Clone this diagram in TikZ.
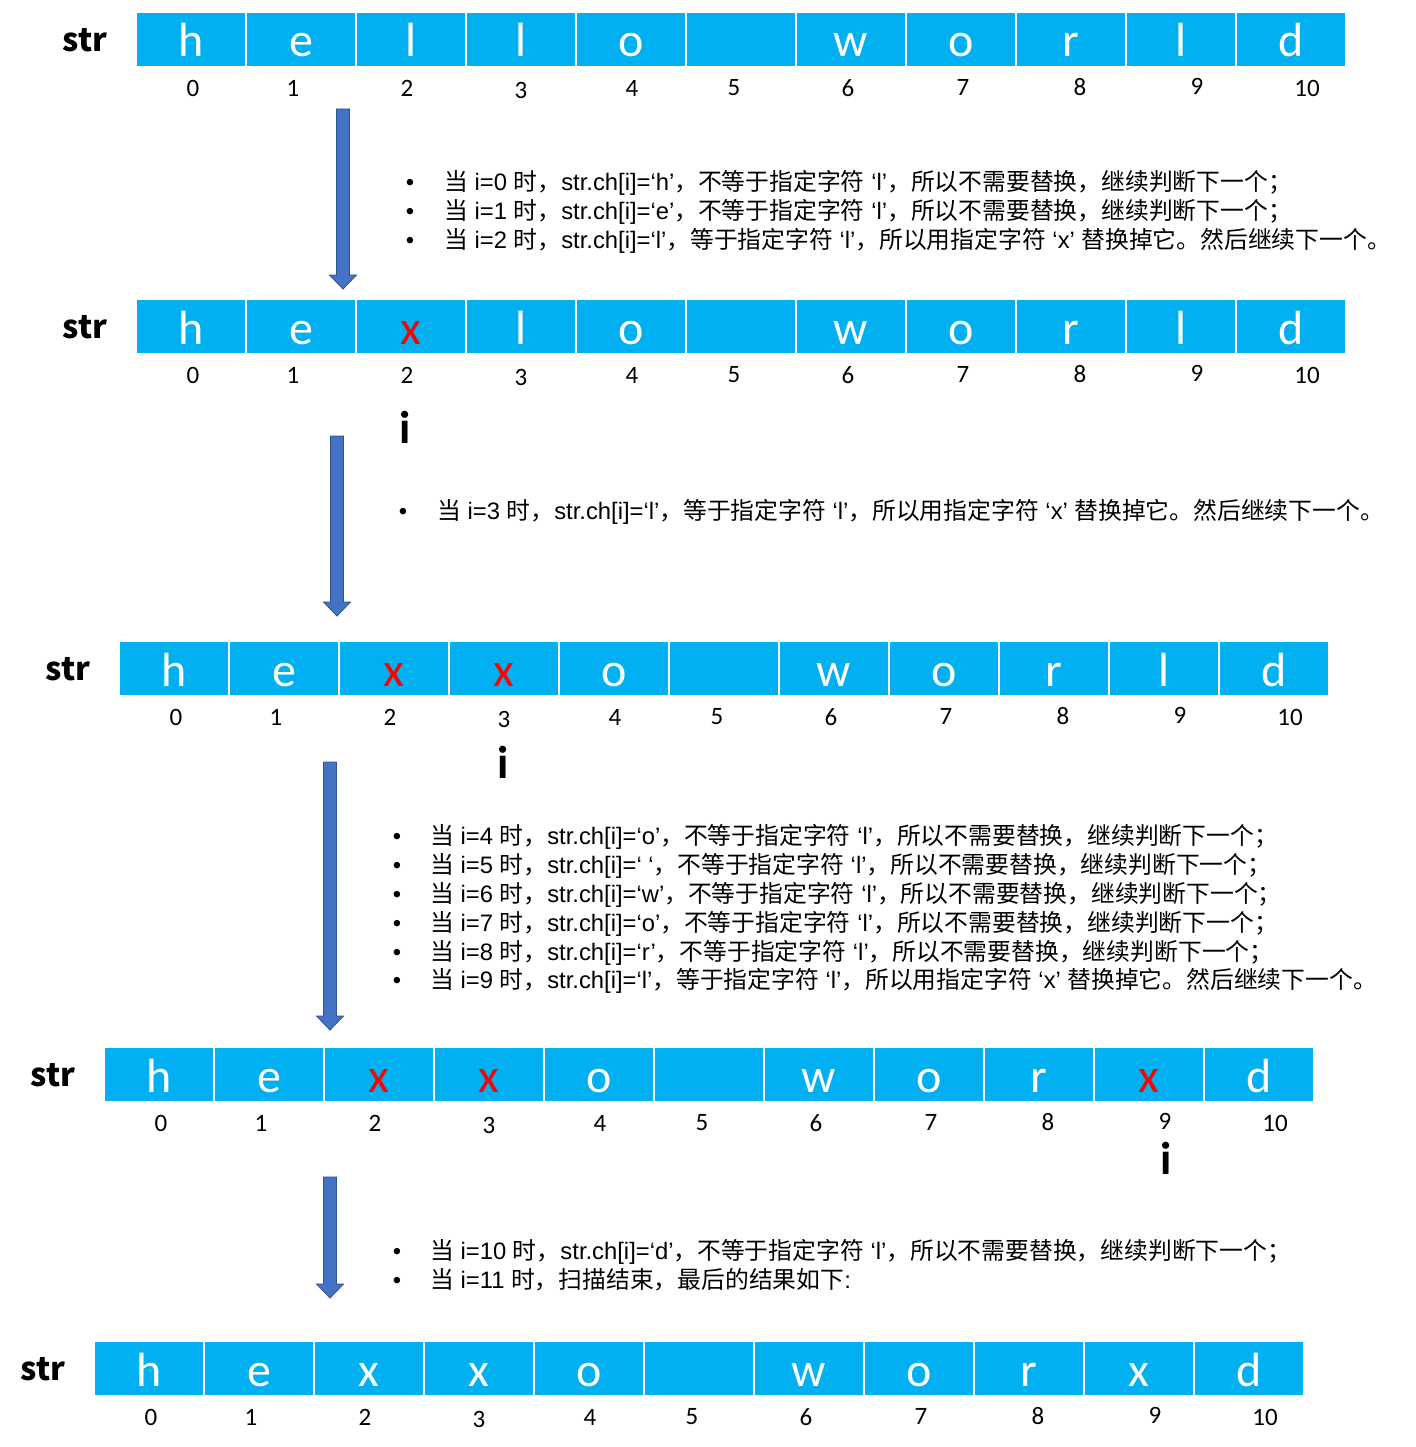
\documentclass[tikz,border=0pt]{standalone}
\usepackage{fontspec}
\setmainfont{Liberation Sans}
\newfontfamily\zhfont{Noto Sans CJK SC}
\newfontfamily\cellfont{Carlito}
\newcommand\zh[1]{{\zhfont #1}}
\definecolor{cellblue}{HTML}{00B0F0}
\definecolor{xred}{HTML}{FF0000}
\definecolor{arrfill}{HTML}{4472C4}
\definecolor{arrdraw}{HTML}{2F528F}
\tikzset{
 cell/.style={fill=cellblue, draw=white, line width=1.5pt, minimum width=110pt, minimum height=55pt,
   inner sep=0pt, text=white, font=\cellfont\fontsize{48}{48}\selectfont, text height=45pt, text depth=10pt},
 idx/.style={font=\cellfont\fontsize{25}{25}\selectfont, inner sep=0pt},
 strlab/.style={font=\zhfont\bfseries\fontsize{32}{32}\selectfont, inner sep=0pt},
 ilab/.style={font=\cellfont\bfseries\fontsize{46}{46}\selectfont, inner sep=0pt},
 txt/.style={font=\fontsize{23.8}{23.8}\selectfont, inner sep=0pt, anchor=base west},
 bul/.style={font=\fontsize{23.8}{23.8}\selectfont, inner sep=0pt, anchor=base},
 blockarrow/.style={fill=arrfill, draw=arrdraw, line width=0.8pt},
}
\newcommand\strrow[4]{%
 \node[strlab] (#1s) at (#2-51, #3+28) {str};
 \foreach \ch [count=\k from 0] in {#4} {
   \node[cell] (#1c\k) at (#2+55+110*\k, #3+27.5) {\ch};
 }
 \foreach \dx/\dy [count=\k from 0] in {57/0,157/0,271/0,385/2,496/0,598/0,712/0,827/-1,944/-1,1061/-2,1171/0}{
   \node[idx] (#1n\k) at (#2+\dx, #3+76+\dy) {\k};
 }
}
\newcommand\blockarr[3]{%
 \draw[blockarrow] (#1-6.5,#2) -- (#1+6.5,#2) -- (#1+6.5,#3-14) -- (#1+13.5,#3-14) -- (#1,#3)
   -- (#1-13.5,#3-14) -- (#1-6.5,#3-14) -- cycle;
}
\newcommand\rx{{\color{xred}x}}
\begin{document}
\begin{tikzpicture}[x=1pt,y=-1pt]
\useasboundingbox (0,0) rectangle (1415,1447);
% rows
\strrow{ra}{136}{12}{h,e,l,l,o,{},w,o,r,l,d}
\strrow{rb}{136}{299}{h,e,\rx,l,o,{},w,o,r,l,d}
\strrow{rc}{119}{641}{h,e,\rx,\rx,o,{},w,o,r,l,d}
\strrow{rd}{104}{1047}{h,e,\rx,\rx,o,{},w,o,r,\rx,d}
\strrow{re}{94}{1341}{h,e,x,x,o,{},w,o,r,x,d}
% pointer labels
\node[ilab] (ib) at (405,427) {i};
\node[ilab] (ic) at (503,762) {i};
\node[ilab] (id) at (1166,1158) {i};
% arrows
\blockarr{343}{109}{289}
\blockarr{337}{436}{616}
\blockarr{330}{762}{1030}
\blockarr{330}{1177}{1298}
% block 1
\foreach \yy [count=\n] in {191,220,249} {\node[bul] (ba\n) at (410,\yy) {•};}
\node[txt] (ta1) at (444,191) {\zh{当} i=0 \zh{时，}str.ch[i]=‘h’\zh{，不等于指定字符} ‘l’\zh{，所以不需要替换，继续判断下一个；}};
\node[txt] (ta2) at (444,220) {\zh{当} i=1 \zh{时，}str.ch[i]=‘e’\zh{，不等于指定字符} ‘l’\zh{，所以不需要替换，继续判断下一个；}};
\node[txt] (ta3) at (444,249) {\zh{当} i=2 \zh{时，}str.ch[i]=‘l’\zh{，等于指定字符} ‘l’\zh{，所以用指定字符} ‘x’ \zh{替换掉它。然后继续下一个。}};
% block 2
\node[bul] (bb1) at (403,519) {•};
\node[txt] (tb1) at (437,519) {\zh{当} i=3 \zh{时，}str.ch[i]=‘l’\zh{，等于指定字符} ‘l’\zh{，所以用指定字符} ‘x’ \zh{替换掉它。然后继续下一个。}};
% block 3
\foreach \yy [count=\n] in {844,873,902,931,960,988} {\node[bul] (bc\n) at (397,\yy) {•};}
\node[txt] (tc1) at (430,844) {\zh{当} i=4 \zh{时，}str.ch[i]=‘o’\zh{，不等于指定字符} ‘l’\zh{，所以不需要替换，继续判断下一个；}};
\node[txt] (tc2) at (430,873) {\zh{当} i=5 \zh{时，}str.ch[i]=‘ ‘\zh{，不等于指定字符} ‘l’\zh{，所以不需要替换，继续判断下一个；}};
\node[txt] (tc3) at (430,902) {\zh{当} i=6 \zh{时，}str.ch[i]=‘w’\zh{，不等于指定字符} ‘l’\zh{，所以不需要替换，继续判断下一个；}};
\node[txt] (tc4) at (430,931) {\zh{当} i=7 \zh{时，}str.ch[i]=‘o’\zh{，不等于指定字符} ‘l’\zh{，所以不需要替换，继续判断下一个；}};
\node[txt] (tc5) at (430,960) {\zh{当} i=8 \zh{时，}str.ch[i]=‘r’\zh{，不等于指定字符} ‘l’\zh{，所以不需要替换，继续判断下一个；}};
\node[txt] (tc6) at (430,988) {\zh{当} i=9 \zh{时，}str.ch[i]=‘l’\zh{，等于指定字符} ‘l’\zh{，所以用指定字符} ‘x’ \zh{替换掉它。然后继续下一个。}};
% block 4
\foreach \yy [count=\n] in {1259,1288} {\node[bul] (bd\n) at (397,\yy) {•};}
\node[txt] (td1) at (430,1259) {\zh{当} i=10 \zh{时，}str.ch[i]=‘d’\zh{，不等于指定字符} ‘l’\zh{，所以不需要替换，继续判断下一个；}};
\node[txt] (td2) at (430,1288) {\zh{当} i=11 \zh{时，扫描结束，最后的结果如下}:};
\end{tikzpicture}
\end{document}
